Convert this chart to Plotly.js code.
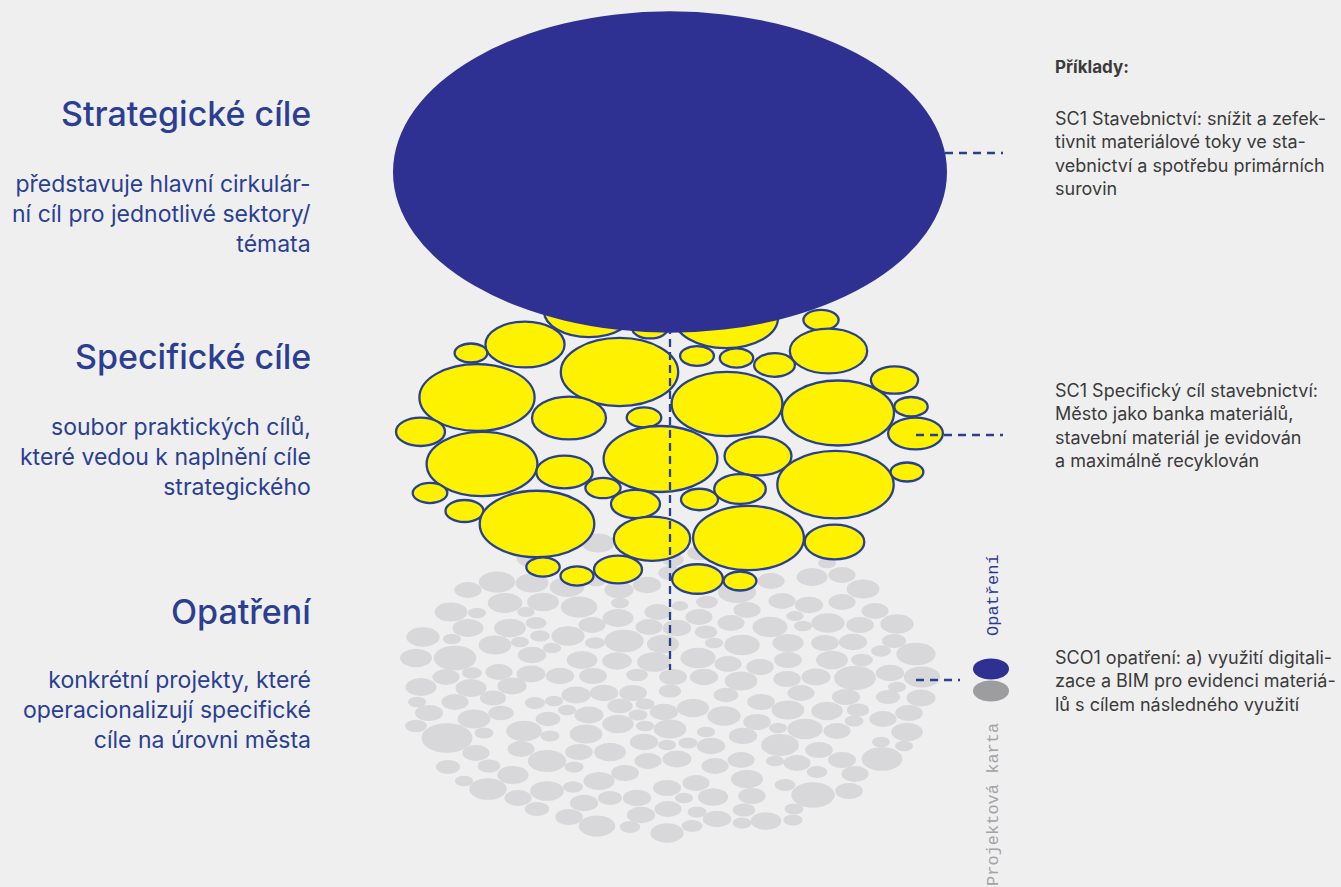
<!DOCTYPE html>
<html>
<head>
<meta charset="utf-8">
<script src="https://cdn.plot.ly/plotly-3.0.1.min.js"></script>
<style>
html,body{margin:0;padding:0;background:#efefef;}
#chart{width:1341px;height:887px;}
</style>
</head>
<body>
<div id="chart"></div>
<script>
// ---- data (page-unit coordinates of the diagram's ellipses) ----
const mainX = 670, mainY = 172, mainR = 277;          // strategic goal ellipse
const yellowX = [589,650,726,821,471,525,619.5,697,736.5,774.5,828.5,477,569,644,727,838,894.5,911,915.5,420.5,482,564.5,660.5,758,835.5,907,430,603,635.5,699.5,740,464.5,537,652,748.5,834.5,543,577,618,697.5,740];
const yellowY = [311,328,318,320,353,344.5,372,356,358,365,351,397.5,418,417.5,404,413,380,406.7,433.5,431.8,464,472,459,456,484.7,472,493,488,504,499.5,489,511,524,538.7,538,542,567,576,569.5,579,581];
const yellowR = [45,18,52,17.6,16.4,39.6,58.7,16.9,16.7,20.4,38.7,57.6,37,17.3,55.4,56,23.6,16.7,27.4,24.5,55.4,28.2,56.9,33.5,58.2,16.4,17.3,17.6,24.5,18.5,25.8,19,57.3,38.2,55.4,29.8,16.7,16.5,24,25.4,16.4];

const grayX = [598,533,700,827,671,596,673,468,497,532,567,619,647,737,771,812,842,863,451,477,505,526,543,579,620,618,658,680,699,707,747,782,809,842,875,795,423,452,468,510,536,540,495,520,552,568,592,595,624,649,677,706,714,663,731,742,770,788,803,828,860,897,825,853,894,416,455,532,582,617,654,698,728,760,788,832,862,881,916,421,446,472,499,531,560,593,637,673,704,741,787,816,855,890,922,897,471,512,417,455,493,535,554,576,604,633,670,726,761,801,846,888,921,429,501,567,589,620,645,638,664,693,724,788,827,858,909,416,474,484,447,524,548,550,586,618,645,670,706,743,757,778,805,837,854,883,907,476,521,547,579,610,644,667,688,711,780,819,881,904,882,448,489,574,648,677,715,741,775,797,842,817,855,464,488,513,625,599,547,573,667,696,747,785,813,849,518,537,584,610,637,684,713,752,794,793,569,597,630,641,668,697,692,667,717,744,742,766];
const grayY = [543,558,553,563,573,580,560,590,582,583,587,590,585,592,581,577,575,589,612,613,603,612,602,607,603,618,612,606,617,602,610,601,605,602,611,616,637,639,628,628,623,636,645,642,648,636,625,643,641,627,628,632,643,644,623,645,627,643,626,623,625,624,643,642,641,658,658,655,660,661,662,658,664,667,660,660,660,651,654,687,677,673,672,674,676,676,675,677,677,681,679,677,678,673,677,687,688,686,702,702,698,703,701,695,693,693,691,695,702,693,697,697,698,713,713,710,715,706,704,715,712,708,716,710,711,710,713,726,719,733,738,731,719,736,734,724,726,729,732,736,722,728,729,731,721,719,732,753,749,761,752,752,742,745,743,746,745,750,742,746,759,767,766,767,761,759,766,760,761,763,760,772,774,781,789,775,773,781,791,787,788,783,779,785,795,791,798,809,803,798,798,798,797,796,809,820,817,826,827,815,809,812,826,833,819,810,823,821];
const grayR = [16.4,16.4,12.7,9.1,12.7,10.9,10.9,13.6,18.2,16.4,17.3,14.5,14.2,19.1,13.6,15.5,13.6,16.4,16.4,9.1,17.3,8.7,16,18.2,9.1,15.5,13.6,8.2,13.6,10.9,13.6,13.6,14.2,13.6,13.6,8.7,16.7,9.1,15.5,16,10.5,10,16.4,9.1,9.1,16.7,13.6,10,19.6,13.6,14.2,11.3,9.1,16,13.6,17.8,17.5,15.6,9.1,16.7,13.8,16.7,13.8,14.2,12,16,21.3,14.2,15.5,14.9,16.9,17.6,13.6,13.8,13.8,16,10.9,10,19.6,15.5,13.6,10,13.6,14.5,14.2,13.8,10.9,13.8,14.2,16.4,13.8,14.5,20.9,14.2,18.2,9.1,15.5,14.5,9.1,13.6,13.1,10.2,9.1,14.5,14.2,13.8,11.3,12.4,13.8,13.6,14,12,14.5,14,12.7,9.1,14.5,12.7,9.5,9.5,14.2,16,16.7,16.4,15.8,11.3,13.8,10.9,16.4,9.5,25.5,17.8,12.4,9.5,16.4,15.8,9.1,16.4,9.1,14.2,13.8,9.1,17.6,13.6,9.5,13.6,15.8,13.6,13.6,19.1,13.8,16,14.2,9.1,9.5,14.2,18.9,13.8,9.1,9.1,20.4,12,11.3,9.5,13.6,14.5,13.6,13.6,9.1,13.6,14,10.4,13.6,9.1,18.7,15.6,13.8,15.6,16.9,10,14,13.6,16,10.5,21.8,13.8,13.6,12.2,14.2,12,14.2,9.1,15.1,13.8,9.5,9.6,13.8,18.2,10.4,14.2,13.6,9.5,10.5,16.7,14.2,11.3,9.5,15.3];

// connector lines (dashed) : [x0, x1, y]
const hLineX0 = [945, 916, 916];
const hLineX1 = [1003, 1003, 960];
const hLineY  = [153, 435, 680];
const vLineX = 670, vLineY0 = 300, vLineY1 = 670;

// legend ellipses
const legendX = [991, 991];
const legendY = [669, 691];
const legendR = [18, 18];

const headings = ["Strategické cíle", "Specifické cíle", "Opatření"];
const headingY = [113, 356, 611];
const descriptions = [
  "představuje hlavní cirkulár-<br>ní cíl pro jednotlivé sektory/<br>témata",
  "soubor praktických cílů,<br>které vedou k naplnění cíle<br>strategického",
  "konkrétní projekty, které<br>operacionalizují specifické<br>cíle na úrovni města"
];
const descY = [214, 457, 710];
const examplesTitle = "Příklady:";
const examples = [
  "SC1 Stavebnictví: snížit a zefek-<br>tivnit materiálové toky ve sta-<br>vebnictví a spotřebu primárních<br>surovin",
  "SC1 Specifický cíl stavebnictví:<br>Město jako banka materiálů,<br>stavební materiál je evidován<br>a maximálně recyklován",
  "SCO1 opatření: a) využití digitali-<br>zace a BIM pro evidenci materiá-<br>lů s cílem následného využití"
];
const examplesY = [153, 425, 681];

// ---- styles ----
const SQ = 0.58;               // vertical squash of every ellipse
const NAVY = "#2e3192";
const STROKE = "#27418f";
const YELLOW = "#fff200";
const GRAY = "#d8d8da";
const TEXTBLUE = "#2b3f92";
const TEXTDARK = "#3b3b3b";

const shapes = [];
function ell(x, y, r, fill, line) {
  return {type: "circle", xref: "x", yref: "y", layer: "above",
    x0: x - r, x1: x + r, y0: y - r * SQ, y1: y + r * SQ,
    fillcolor: fill, line: line || {width: 0}};
}
for (let i = 0; i < grayX.length; i++) shapes.push(ell(grayX[i], grayY[i], grayR[i], GRAY));
for (let i = 0; i < yellowX.length; i++) shapes.push(ell(yellowX[i], yellowY[i], yellowR[i], YELLOW, {color: STROKE, width: 2.3}));
shapes.push({type: "line", xref: "x", yref: "y", layer: "above", x0: vLineX, x1: vLineX, y0: vLineY0, y1: vLineY1,
  line: {color: STROKE, width: 2.3, dash: "8px,5px"}});
shapes.push(ell(mainX, mainY, mainR, NAVY));
for (let i = 0; i < hLineY.length; i++) shapes.push({type: "line", xref: "x", yref: "y", layer: "above",
  x0: hLineX0[i], x1: hLineX1[i], y0: hLineY[i], y1: hLineY[i],
  line: {color: STROKE, width: 2.5, dash: "8px,6px"}});
shapes.push(ell(legendX[0], legendY[0], legendR[0], NAVY));
shapes.push(ell(legendX[1], legendY[1], legendR[1], "#9d9d9f"));

const annotations = [];
const FONT = "Inter, 'Noto Sans', sans-serif";
for (let i = 0; i < headings.length; i++) {
  annotations.push({xref: "x", yref: "y", x: 312, y: headingY[i], text: headings[i], showarrow: false,
    xanchor: "right", yanchor: "middle", align: "right", borderpad: 0,
    font: {family: FONT, size: 34, color: TEXTBLUE, weight: 500}});
  annotations.push({xref: "x", yref: "y", x: 312, y: descY[i], text: descriptions[i], showarrow: false,
    xanchor: "right", yanchor: "middle", align: "right", borderpad: 0,
    font: {family: FONT, size: 23, color: TEXTBLUE}});
}
annotations.push({xref: "x", yref: "y", x: 1054, y: 67, text: "<b>" + examplesTitle + "</b>", showarrow: false,
  xanchor: "left", yanchor: "middle", align: "left", borderpad: 0,
  font: {family: FONT, size: 17, color: TEXTDARK}});
for (let i = 0; i < examples.length; i++) {
  annotations.push({xref: "x", yref: "y", x: 1054, y: examplesY[i], text: examples[i], showarrow: false,
    xanchor: "left", yanchor: "middle", align: "left", borderpad: 0,
    font: {family: FONT, size: 18, color: TEXTDARK}});
}
annotations.push({xref: "x", yref: "y", x: 993, y: 595, text: "Opatření", textangle: -90, showarrow: false,
  xanchor: "center", yanchor: "middle", borderpad: 0,
  font: {family: "'Liberation Mono', 'DejaVu Sans Mono', monospace", size: 17, color: "#2e3a92"}});
annotations.push({xref: "x", yref: "y", x: 993, y: 805, text: "Projektová karta", textangle: -90, showarrow: false,
  xanchor: "center", yanchor: "middle", borderpad: 0,
  font: {family: "'Liberation Mono', 'DejaVu Sans Mono', monospace", size: 17, color: "#a3a3a5"}});

const layout = {
  width: 1341, height: 887,
  margin: {l: 0, r: 0, t: 0, b: 0, pad: 0},
  paper_bgcolor: "#efefef", plot_bgcolor: "#efefef",
  xaxis: {range: [0, 1341], visible: false, fixedrange: true},
  yaxis: {range: [887, 0], visible: false, fixedrange: true},
  showlegend: false,
  shapes: shapes,
  annotations: annotations
};
Plotly.newPlot("chart", [{x: [], y: [], type: "scatter", mode: "markers", hoverinfo: "skip"}], layout,
  {staticPlot: true, displayModeBar: false});
</script>
</body>
</html>
